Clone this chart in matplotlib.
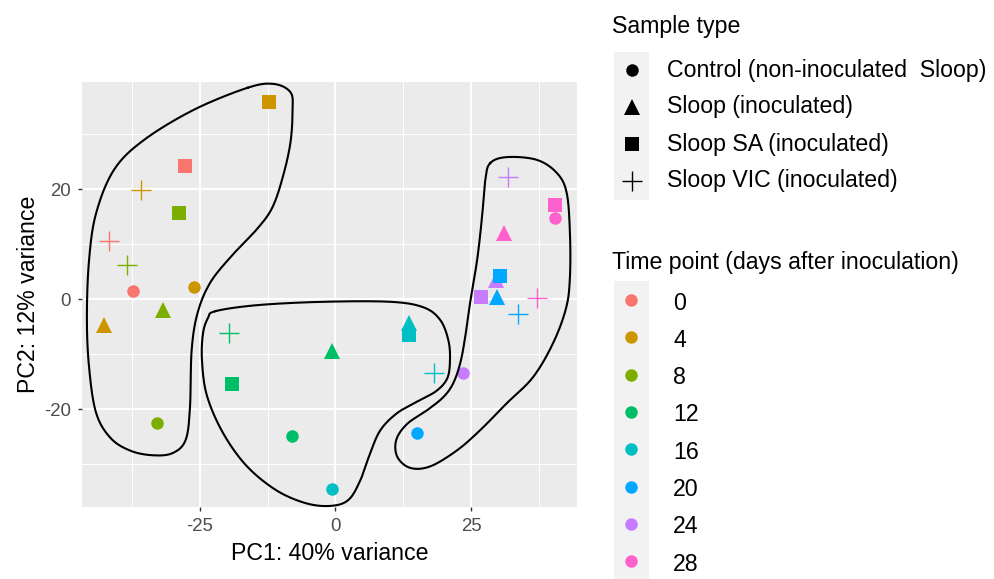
import numpy as np
import matplotlib.pyplot as plt
from matplotlib.patches import Rectangle

plt.rcParams['font.family'] = ['Liberation Sans', 'DejaVu Sans']
plt.rcParams['axes.unicode_minus'] = False

# factor levels
days = ['0', '4', '8', '12', '16', '20', '24', '28']
day_colors = ['#F8766D', '#CD9600', '#7CAE00', '#00BE67',
              '#00BFC4', '#00A9FF', '#C77CFF', '#FF61CC']
sample_types = ['Control (non-inoculated  Sloop)', 'Sloop (inoculated)',
                'Sloop SA (inoculated)', 'Sloop VIC (inoculated)']

# PCA scores, one entry per sample (row order = drawing order)
pc1 = [-37.3, -26.1, -32.9, -8.1, -0.6, 15.1, 23.5, 40.4,
       -42.6, -31.8, -0.6, 13.6, 29.5, 31.1,
       -27.8, -12.3, -28.9, -19.1, 13.6, 30.3, 26.8, 40.4,
       29.8,
       -41.7, -35.8, -38.4, -19.7, 18.2, 33.6, 31.8, 37.1]
pc2 = [1.5, 2.2, -22.5, -24.9, -34.5, -24.4, -13.5, 14.7,
       -4.7, -2.0, -9.5, -4.3, 3.5, 12.0,
       24.2, 35.8, 15.6, -15.5, -6.5, 4.2, 0.4, 17.1,
       0.3,
       10.5, 19.8, 6.2, -6.2, -13.5, -2.7, 22.2, 0.2]
sample_idx = [0]*8 + [1]*6 + [2]*8 + [1] + [3]*8
day_idx = [0, 1, 2, 3, 4, 5, 6, 7,
           1, 2, 3, 4, 6, 7,
           0, 1, 2, 3, 4, 5, 6, 7,
           5,
           0, 1, 2, 3, 4, 5, 6, 7]

# hand-drawn group outlines (PC1, PC2)
left_x = [-16.2, -11.4, -8.3, -7.9, -8.3, -9.7, -11.6, -14.3, -18.8, -23.0, -25.4, -26.5, -26.8,
          -27.6, -30.0, -33.6, -37.7, -41.4, -44.1, -45.4, -45.8, -45.4, -44.1, -40.8, -35.3, -26.1]
left_y = [38.4, 39.1, 37.6, 34.4, 28.4, 22.2, 16.7, 12.9, 8.2, 3.1, -2.5, -9.3, -19.6,
          -25.6, -28.0, -28.4, -27.6, -25.3, -20.7, -12.4, -3.3, 7.1, 15.6, 23.5, 28.9, 34.4]
mid_x = [-22.1, -14.3, -2.2, 10.1, 16.2, 19.3, 20.8, 21.1, 20.6, 18.6, 15.3, 11.4, 8.3,
         6.4, 4.6, 2.4, -0.9, -5.5, -11.0, -16.5, -20.8, -23.7, -24.6, -24.4, -23.5]
mid_y = [-2.2, -1.1, -0.5, -0.5, -1.5, -3.8, -7.5, -11.1, -14.4, -16.7, -18.5, -20.7, -23.8,
         -28.0, -32.9, -36.5, -37.6, -37.1, -34.7, -30.2, -24.2, -17.5, -11.1, -6.2, -3.5]
right_x = [28.5, 31.6, 37.1, 40.8, 42.6, 43.2, 43.2, 42.5, 40.1, 36.4, 31.6, 26.7, 22.4, 17.5,
           13.8, 11.4, 11.2, 13.2, 16.9, 19.9, 21.7, 23.0, 23.9, 24.8, 26.1, 27.0, 27.6]
right_y = [24.7, 25.8, 25.3, 22.9, 19.3, 12.0, 4.0, -1.6, -8.0, -14.2, -18.9, -23.8, -27.5, -30.4,
           -30.7, -28.7, -25.6, -22.7, -20.2, -17.8, -15.3, -11.6, -6.9, -0.7, 7.1, 14.9, 21.6]

shapes = ['o', '^', 's', '+']
shape_size = [9, 11, 10, 15]


def closed_spline(xs, ys, steps=24):
    # closed Catmull-Rom curve through the given vertices
    p = np.column_stack([xs, ys])
    n = len(p)
    t = np.linspace(0, 1, steps, endpoint=False)[:, None]
    out = []
    for i in range(n):
        p0, p1, p2, p3 = p[i - 1], p[i], p[(i + 1) % n], p[(i + 2) % n]
        out.append(0.5 * (2 * p1 + (p2 - p0) * t
                          + (2 * p0 - 5 * p1 + 4 * p2 - p3) * t ** 2
                          + (-p0 + 3 * p1 - 3 * p2 + p3) * t ** 3))
    out.append(p[:1])
    return np.vstack(out)


def draw_point(axis, x, y, s, color):
    if shapes[s] == '+':
        axis.plot(x, y, '+', ms=shape_size[s], mew=1.0, color=color, clip_on=False)
    else:
        axis.plot(x, y, shapes[s], ms=shape_size[s], mew=0, color=color, clip_on=False)


W, H = 995, 579
fig = plt.figure(figsize=(W / 100, H / 100), dpi=100)
ax = fig.add_axes([82 / W, (H - 507) / H, (577 - 82) / W, (507 - 82) / H])
ax.set_facecolor('#EBEBEB')
ax.set_xlim(-46.7, 44.5)
ax.set_ylim(-37.8, 39.45)

ax.set_xticks([-25, 0, 25])
ax.set_xticks([-37.5, -12.5, 12.5, 37.5], minor=True)
ax.set_yticks([-20, 0, 20])
ax.set_yticks([-30, -10, 10, 30], minor=True)
ax.grid(which='major', color='white', lw=1.4)
ax.grid(which='minor', color='white', lw=0.7)
ax.set_axisbelow(True)
for sp in ax.spines.values():
    sp.set_visible(False)
ax.tick_params(which='major', length=3, width=1, color='#333333',
               labelsize=13.4, labelcolor='#4D4D4D', pad=5)
ax.tick_params(which='minor', length=0)

ax.set_xlabel('PC1: 40% variance', fontsize=16.7, labelpad=5)
ax.set_ylabel('PC2: 12% variance', fontsize=16.7, labelpad=3)

for x, y, s, d in zip(pc1, pc2, sample_idx, day_idx):
    draw_point(ax, x, y, s, day_colors[d])

for xs, ys in [(left_x, left_y), (mid_x, mid_y), (right_x, right_y)]:
    c = closed_spline(xs, ys)
    ax.plot(c[:, 0], c[:, 1], color='black', lw=1.5, clip_on=False)

# legends, laid out in pixel units
lg = fig.add_axes([0, 0, 1, 1])
lg.set_xlim(0, W)
lg.set_ylim(H, 0)
lg.axis('off')

lg.text(612, 27, 'Sample type', fontsize=16.7, va='center', ha='left')
for i, label in enumerate(sample_types):
    yy = 70 + 37 * i
    lg.add_patch(Rectangle((614, yy - 18.5), 35, 37, color='#F2F2F2', lw=0))
    draw_point(lg, 632, yy, i, 'black')
    lg.text(667, yy, label, fontsize=16.7, va='center', ha='left')

lg.text(612, 262, 'Time point (days after inoculation)', fontsize=16.7, va='center', ha='left')
for i, label in enumerate(days):
    yy = 300 + 37.3 * i
    lg.add_patch(Rectangle((614, yy - 18.6), 35, 37.3, color='#F2F2F2', lw=0))
    lg.plot(631, yy, 'o', ms=9, mew=0, color=day_colors[i])
    lg.text(673, yy + 3, label, fontsize=16.7, va='center', ha='left')

fig.savefig('out.png', dpi=100)
